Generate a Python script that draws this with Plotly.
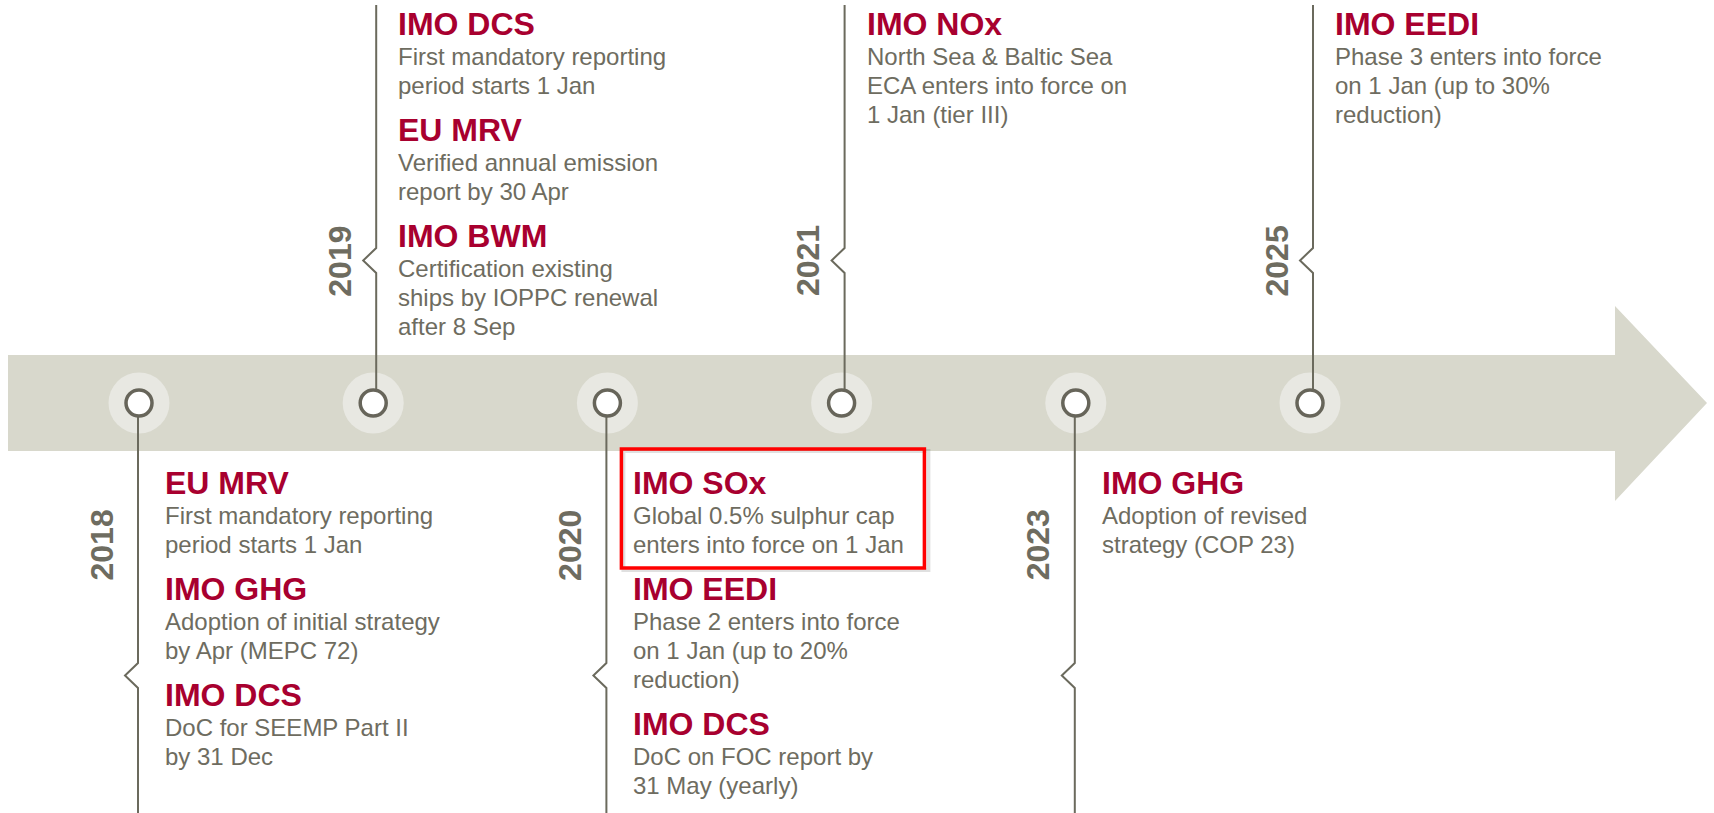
import plotly.graph_objects as go

# ---------------- data ----------------
years = ["2018", "2019", "2020", "2021", "2023", "2025"]
sides = ["below", "above", "below", "above", "below", "above"]

titles_2018 = ["EU MRV", "IMO GHG", "IMO DCS"]
texts_2018 = [["First mandatory reporting", "period starts 1 Jan"],
              ["Adoption of initial strategy", "by Apr (MEPC 72)"],
              ["DoC for SEEMP Part II", "by 31 Dec"]]
titles_2019 = ["IMO DCS", "EU MRV", "IMO BWM"]
texts_2019 = [["First mandatory reporting", "period starts 1 Jan"],
              ["Verified annual emission", "report by 30 Apr"],
              ["Certification existing", "ships by IOPPC renewal", "after 8 Sep"]]
titles_2020 = ["IMO SOx", "IMO EEDI", "IMO DCS"]
texts_2020 = [["Global 0.5% sulphur cap", "enters into force on 1 Jan"],
              ["Phase 2 enters into force", "on 1 Jan (up to 20%", "reduction)"],
              ["DoC on FOC report by", "31 May (yearly)"]]
titles_2021 = ["IMO NOx"]
texts_2021 = [["North Sea & Baltic Sea", "ECA enters into force on", "1 Jan (tier III)"]]
titles_2023 = ["IMO GHG"]
texts_2023 = [["Adoption of revised", "strategy (COP 23)"]]
titles_2025 = ["IMO EEDI"]
texts_2025 = [["Phase 3 enters into force", "on 1 Jan (up to 30%", "reduction)"]]

event_titles = [titles_2018, titles_2019, titles_2020, titles_2021, titles_2023, titles_2025]
event_texts = [texts_2018, texts_2019, texts_2020, texts_2021, texts_2023, texts_2025]

highlight_year = "2020"
highlight_event = 0

# ---------------- styling / geometry ----------------
W, H = 1714, 813
X0, DX = 139, 234.2
AXIS_Y = 403
RED = "#A8002F"
GRAY_TXT = "#6E6C60"
LINE_C = "#6B6A5D"
ARROW_C = "#D8D8CC"
HALO_C = "#E8E8E2"
FONT = "Liberation Sans, Arial, sans-serif"
TITLE_SIZE = 32
BODY_SIZE = 24
YEAR_SIZE = 32
LINE_GAP = 29
TITLE_TO_BODY = 30
BODY_TO_TITLE = 25

fig = go.Figure()

# arrow
fig.add_trace(go.Scatter(
    x=[8, 1615, 1615, 1707, 1615, 1615, 8, 8],
    y=[355, 355, 306, 403, 501, 451, 451, 355],
    mode="lines", fill="toself", fillcolor=ARROW_C,
    line=dict(width=0, color=ARROW_C), hoverinfo="skip"))

cxs = [X0 + DX * i for i in range(len(years))]

# halos
fig.add_trace(go.Scatter(x=cxs, y=[AXIS_Y] * len(years), mode="markers",
                         marker=dict(size=61, color=HALO_C, line=dict(width=0)),
                         hoverinfo="skip"))

annotations = []
shapes = []
lx_all, ly_all = [], []
for i, (yr, side) in enumerate(zip(years, sides)):
    cx = cxs[i]
    if side == "below":
        xl = cx - 1
        pts = [(xl, AXIS_Y), (xl, 663), (xl - 13, 675.5), (xl, 688), (xl, H + 5)]
        year_y = 545
        T = 472
        tx = xl + 25
    else:
        xl = cx + 3
        pts = [(xl, 5), (xl, 248), (xl - 13, 260.5), (xl, 273), (xl, AXIS_Y)]
        year_y = 261
        T = 13
        tx = xl + 20
    lx_all += [p[0] for p in pts] + [None]
    ly_all += [p[1] for p in pts] + [None]

    annotations.append(dict(x=xl - 36.5, y=year_y, xref="x", yref="y", text=yr,
                            textangle=-90, showarrow=False, xanchor="center",
                            yanchor="middle",
                            font=dict(family=FONT, size=YEAR_SIZE, color=GRAY_TXT,
                                      weight="bold")))

    for k, (title, body) in enumerate(zip(event_titles[i], event_texts[i])):
        tb = T + 22  # title baseline
        annotations.append(dict(x=tx, y=tb - 0.3465 * TITLE_SIZE, xref="x", yref="y",
                                text=title, showarrow=False, xanchor="left",
                                yanchor="middle",
                                font=dict(family=FONT, size=TITLE_SIZE, color=RED,
                                          weight="bold")))
        b = tb + TITLE_TO_BODY
        for j, line in enumerate(body):
            annotations.append(dict(x=tx, y=b - 0.3465 * BODY_SIZE, xref="x", yref="y",
                                    text=line, showarrow=False, xanchor="left",
                                    yanchor="middle",
                                    font=dict(family=FONT, size=BODY_SIZE, color=GRAY_TXT)))
            if j < len(body) - 1:
                b += LINE_GAP
        if yr == highlight_year and k == highlight_event:
            shapes.append(dict(type="rect", xref="x", yref="y",
                               x0=tx - 8, x1=tx + 297, y0=T - 21, y1=b + 17,
                               line=dict(color="rgba(0,0,0,0.12)", width=4),
                               layer="above"))
            shapes.append(dict(type="rect", xref="x", yref="y",
                               x0=tx - 10, x1=tx + 293, y0=T - 23, y1=b + 15,
                               line=dict(color="#FF0000", width=3.5),
                               layer="above"))
        T = b + BODY_TO_TITLE

# connector lines
fig.add_trace(go.Scatter(x=lx_all, y=ly_all, mode="lines",
                         line=dict(color=LINE_C, width=2), hoverinfo="skip"))

# rings
fig.add_trace(go.Scatter(x=cxs, y=[AXIS_Y] * len(years), mode="markers",
                         marker=dict(size=26, color="white",
                                     line=dict(width=3.5, color="#67655A")),
                         hoverinfo="skip"))

fig.update_layout(
    width=W, height=H, margin=dict(l=0, r=0, t=0, b=0),
    paper_bgcolor="white", plot_bgcolor="white", showlegend=False,
    xaxis=dict(range=[0, W], visible=False, fixedrange=True),
    yaxis=dict(range=[H, 0], visible=False, fixedrange=True),
    annotations=annotations, shapes=shapes,
)

fig.write_html("out.html", config={"displayModeBar": False},
               post_script="document.body.style.margin='0';document.body.style.overflow='hidden';")
